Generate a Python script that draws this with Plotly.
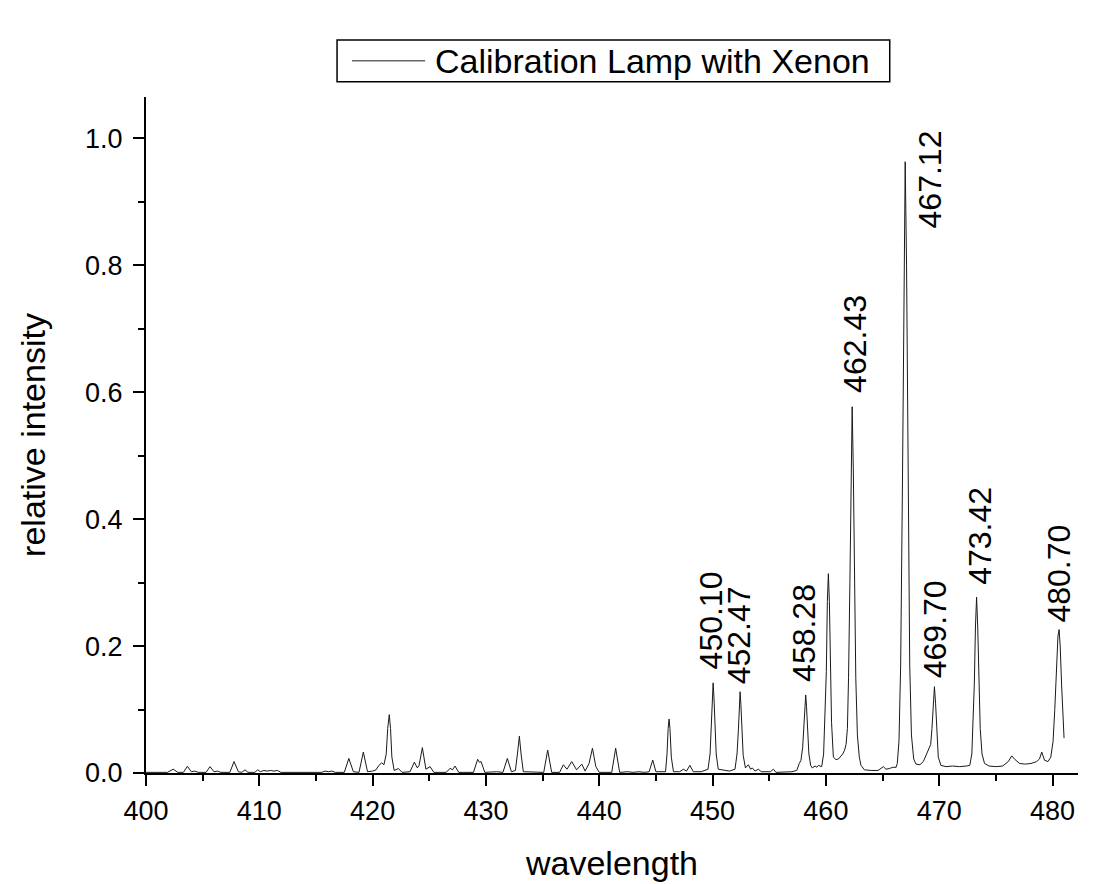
import plotly.graph_objects as go

# Spectrum vertices (wavelength in nm, relative intensity)
wavelength = [
    400.0, 401.9, 402.4, 402.8, 403.3, 403.65, 404.0, 404.3, 404.6,
    405.3, 405.65, 406.0, 406.3, 406.6, 407.4, 407.77, 408.15, 408.45,
    408.74, 409.0, 409.6, 409.86, 410.1, 410.4, 410.7, 411.0, 411.3,
    411.6, 411.9, 415.5, 415.8, 416.1, 416.4, 416.7, 417.5, 417.9,
    418.3, 418.8, 419.18, 419.55, 420.0, 420.3, 420.55, 420.8, 421.0,
    421.2, 421.33, 421.47, 421.58, 421.7, 421.9, 422.27, 422.6, 423.3,
    423.68, 423.95, 424.1, 424.39, 424.7, 425.07, 425.4, 426.5, 426.83,
    427.05, 427.27, 427.6, 428.9, 429.27, 429.42, 429.57, 429.9, 430.95,
    431.5, 431.89, 432.25, 432.6, 432.78, 432.95, 433.1, 433.3, 435.1,
    435.45, 435.8, 436.5, 436.83, 437.15, 437.57, 438.0, 438.46, 438.75,
    439.1, 439.4, 439.7, 440.0, 441.1, 441.45, 441.8, 442.5, 443.0,
    443.5, 444.0, 444.4, 444.72, 445.0, 445.85, 445.98, 446.08, 446.16,
    446.24, 446.36, 446.55, 447.1, 447.42, 447.7, 448.0, 448.3, 449.0,
    449.6, 449.78, 449.9, 449.98, 450.05, 450.12, 450.2, 450.32, 450.5,
    451.5, 451.98, 452.16, 452.28, 452.36, 452.43, 452.5, 452.58, 452.7,
    452.9, 453.16, 453.35, 453.5, 453.75, 454.04, 454.3, 455.1, 455.37,
    455.6, 457.0, 457.43, 457.65, 457.8, 457.95, 458.06, 458.15, 458.22,
    458.29, 458.38, 458.5, 458.66, 458.8, 459.05, 459.2, 459.34, 459.63,
    459.8, 459.92, 460.04, 460.13, 460.22, 460.31, 460.4, 460.5, 460.66,
    460.9, 461.1, 461.3, 461.49, 461.65, 461.78, 461.9, 462.0, 462.12,
    462.22, 462.32, 462.42, 462.52, 462.64, 462.78, 462.95, 463.1, 463.4,
    464.0, 464.6, 465.07, 465.3, 465.6, 465.9, 466.2, 466.3, 466.45,
    466.6, 466.76, 466.88, 467.0, 467.12, 467.24, 467.4, 467.55, 467.75,
    467.95, 468.3, 468.6, 468.9, 469.1, 469.25, 469.36, 469.46, 469.58,
    469.68, 469.78, 469.92, 470.15, 470.6, 471.2, 471.8, 472.4, 472.7,
    472.88, 473.0, 473.1, 473.2, 473.3, 473.4, 473.5, 473.62, 473.78,
    474.0, 474.4, 475.0, 475.6, 476.1, 476.4, 476.7, 477.1, 477.6,
    478.1, 478.6, 478.85, 479.05, 479.3, 479.6, 479.85, 480.05, 480.2,
    480.35, 480.48, 480.58, 480.68, 480.8, 480.92, 481.02,
]
intensity = [
    0.001, 0.001, 0.006, 0.001, 0.001, 0.0105, 0.002, 0.003, 0.001,
    0.001, 0.010, 0.002, 0.003, 0.001, 0.001, 0.018, 0.002, 0.001,
    0.005, 0.001, 0.001, 0.005, 0.002, 0.004, 0.003, 0.004, 0.003,
    0.004, 0.001, 0.001, 0.003, 0.002, 0.003, 0.001, 0.001, 0.023,
    0.002, 0.001, 0.033, 0.002, 0.003, 0.005, 0.012, 0.016, 0.013,
    0.030, 0.070, 0.092, 0.070, 0.025, 0.004, 0.007, 0.001, 0.002,
    0.017, 0.008, 0.012, 0.040, 0.006, 0.010, 0.001, 0.001, 0.0074,
    0.005, 0.011, 0.001, 0.001, 0.0216, 0.017, 0.018, 0.001, 0.002,
    0.001, 0.023, 0.002, 0.004, 0.030, 0.058, 0.030, 0.002, 0.001,
    0.036, 0.001, 0.001, 0.013, 0.006, 0.018, 0.005, 0.014, 0.003,
    0.015, 0.039, 0.010, 0.001, 0.001, 0.039, 0.001, 0.002, 0.001,
    0.002, 0.001, 0.002, 0.0205, 0.002, 0.002, 0.030, 0.070, 0.085,
    0.070, 0.025, 0.002, 0.002, 0.006, 0.003, 0.012, 0.002, 0.002,
    0.006, 0.030, 0.075, 0.120, 0.142, 0.120, 0.075, 0.030, 0.006,
    0.003, 0.006, 0.030, 0.068, 0.108, 0.128, 0.108, 0.068, 0.028,
    0.008, 0.013, 0.006, 0.008, 0.003, 0.006, 0.002, 0.002, 0.006,
    0.001, 0.002, 0.004, 0.015, 0.020, 0.040, 0.075, 0.105, 0.123,
    0.105, 0.075, 0.030, 0.012, 0.008, 0.011, 0.009, 0.012, 0.010,
    0.030, 0.090, 0.160, 0.270, 0.314, 0.270, 0.160, 0.080, 0.025,
    0.021, 0.022, 0.026, 0.030, 0.036, 0.045, 0.070, 0.150, 0.300,
    0.480, 0.577, 0.480, 0.300, 0.150, 0.060, 0.025, 0.012, 0.005,
    0.004, 0.004, 0.010, 0.006, 0.007, 0.009, 0.009, 0.015, 0.050,
    0.170, 0.460, 0.800, 0.963, 0.800, 0.460, 0.170, 0.060, 0.022,
    0.014, 0.013, 0.018, 0.030, 0.040, 0.045, 0.070, 0.110, 0.136,
    0.110, 0.065, 0.025, 0.012, 0.010, 0.011, 0.010, 0.011, 0.012,
    0.030, 0.080, 0.140, 0.230, 0.277, 0.230, 0.140, 0.070, 0.030,
    0.015, 0.011, 0.010, 0.011, 0.018, 0.027, 0.021, 0.015, 0.014,
    0.015, 0.018, 0.022, 0.033, 0.020, 0.018, 0.025, 0.050, 0.100,
    0.170, 0.215, 0.226, 0.200, 0.140, 0.080, 0.055,
]

# Peak labels (text, x position, y of the label's lower end)
peak_labels = ["450.10", "452.47", "458.28", "462.43", "467.12", "469.70", "473.42", "480.70"]
label_x = [449.86, 452.3, 458.05, 462.5, 469.2, 469.62, 473.58, 480.58]
label_y = [0.160, 0.136, 0.140, 0.596, 0.855, 0.146, 0.293, 0.234]

series_name = "Calibration Lamp with Xenon"
x_title = "wavelength"
y_title = "relative intensity"

FONT = "Liberation Sans, Arial, sans-serif"
LINE_COLOR = "#1a1a1a"

fig = go.Figure()
fig.add_trace(go.Scatter(
    x=wavelength, y=intensity, mode="lines", name=series_name,
    line=dict(color=LINE_COLOR, width=1),
    showlegend=False,
))

for t, xv, yv in zip(peak_labels, label_x, label_y):
    fig.add_annotation(
        x=xv, y=yv, xref="x", yref="y", text=t, showarrow=False,
        textangle=-90, xanchor="center", yanchor="bottom",
        font=dict(family=FONT, size=32, color="black"),
    )

# Legend box drawn in paper space (Origin-style legend with long line sample)
fig.add_shape(type="rect", xref="paper", yref="paper",
              x0=0.205, x1=0.798, y0=1.0225, y1=1.0845,
              line=dict(color="black", width=1.5), fillcolor="white")
fig.add_shape(type="line", xref="paper", yref="paper",
              x0=0.221, x1=0.2995, y0=1.0535, y1=1.0535,
              line=dict(color=LINE_COLOR, width=1))
fig.add_annotation(x=0.3075, y=1.0535, xref="paper", yref="paper",
                   text=series_name, showarrow=False,
                   xanchor="left", yanchor="middle",
                   font=dict(family=FONT, size=34, color="black"))

fig.update_layout(
    width=1094, height=884,
    margin=dict(l=146, r=16, t=97, b=111, pad=0, autoexpand=False),
    paper_bgcolor="white", plot_bgcolor="white",
    font=dict(family=FONT, color="black"),
    showlegend=False,
    xaxis=dict(
        range=[400, 482.25], showgrid=False, zeroline=False, automargin=False,
        showline=True, linecolor="black", linewidth=2,
        ticks="outside", ticklen=11, tickwidth=2, tickcolor="black",
        tickvals=[400, 410, 420, 430, 440, 450, 460, 470, 480],
        minor=dict(ticks="outside", ticklen=6, tickwidth=2, tickcolor="black",
                   tickvals=[405, 415, 425, 435, 445, 455, 465, 475]),
        tickfont=dict(family=FONT, size=27, color="black"),
        ticklabelstandoff=2,
        title=dict(text=x_title, font=dict(family=FONT, size=34, color="black"), standoff=26),
    ),
    yaxis=dict(
        range=[0, 1.065], showgrid=False, zeroline=False, automargin=False,
        showline=True, linecolor="black", linewidth=2,
        ticks="outside", ticklen=11, tickwidth=2, tickcolor="black",
        tickvals=[0.0, 0.2, 0.4, 0.6, 0.8, 1.0], tickformat=".1f",
        minor=dict(ticks="outside", ticklen=6, tickwidth=2, tickcolor="black",
                   tickvals=[0.1, 0.3, 0.5, 0.7, 0.9]),
        tickfont=dict(family=FONT, size=27, color="black"),
        ticklabelstandoff=5,
        title=dict(text=y_title, font=dict(family=FONT, size=34, color="black"), standoff=29),
    ),
)

fig.write_html("out.html")
